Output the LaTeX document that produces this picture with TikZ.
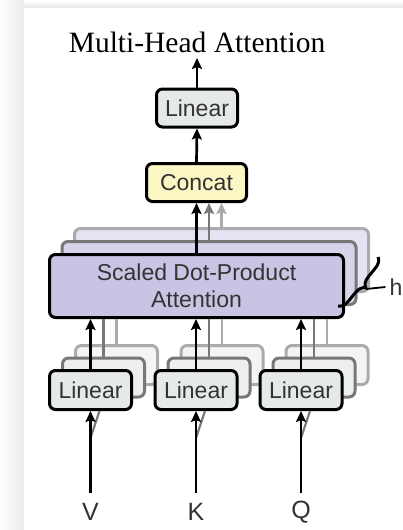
\documentclass[tikz,border=0pt]{standalone}
\usepackage{fontspec}
\setmainfont{Liberation Sans}
\newfontfamily\titlefont{Liberation Serif}
\usetikzlibrary{arrows.meta,decorations.pathreplacing,calc}
\definecolor{bgstrip}{HTML}{EAEAEA}
\definecolor{linfill}{HTML}{E5EAE8}
\definecolor{linfillb}{HTML}{ECEFEE}
\definecolor{linfillc}{HTML}{F3F4F4}
\definecolor{catfill}{HTML}{FBF7C4}
\definecolor{attfill}{HTML}{CBC3E3}
\definecolor{attfillb}{HTML}{D8D2EA}
\definecolor{attfillc}{HTML}{E6E2F1}
\definecolor{midgray}{HTML}{777777}
\definecolor{lightgray}{HTML}{ABABAB}
\begin{document}
\begin{tikzpicture}[x=1pt,y=-1pt,
  box/.style={draw=black, line width=3pt, rounded corners=6pt, inner sep=0pt,
    font=\fontsize{23}{27}\selectfont, text=black!80, align=center},
  boxb/.style={box, draw=midgray},
  boxc/.style={box, draw=lightgray},
  arr/.style={line width=2.7pt, -{Stealth[length=11pt,width=10pt,inset=2pt]}},
  garr/.style={arr, draw=midgray},
  larr/.style={arr, draw=lightgray},
  gline/.style={line width=2.6pt, draw=midgray},
  lline/.style={line width=2.6pt, draw=lightgray},
  lab/.style={font=\fontsize{25}{29}\selectfont, text=black!80, inner sep=0pt}]
\useasboundingbox (0,0) rectangle (403,530);
\fill[white] (0,0) rectangle (403,530);
\shade[left color=white, right color=bgstrip] (0,0) rectangle (24,530);
\shade[top color=white, bottom color=bgstrip] (24,0) rectangle (403,7);

% title
\node[font=\titlefont\fontsize{29.5}{32}\selectfont, inner sep=0pt] (title) at (197,42) {Multi-Head Attention};

% SDPA copies
\node[boxc, fill=attfillc, minimum width=294pt, minimum height=63pt] (attc) at (221.5,260) {};
\node[boxb, fill=attfillb, minimum width=294pt, minimum height=63pt] (attb) at (209,273) {};

% Concat and top Linear
\node[box, fill=catfill, minimum width=100pt, minimum height=38pt] (concat) at (196.5,182.5) {Concat};
\node[box, fill=linfill, minimum width=81pt, minimum height=38pt] (lint) at (197,108) {Linear};
\coordinate (out) at (197,58);
\draw[arr] (lint.north) -- (out);
\draw[arr] (concat.north) -- (lint.south);

% gray arrows from copies to concat
\draw[larr] (attc.north) -- (attc.north |- concat.south);
\draw[garr] (attb.north) -- (attb.north |- concat.south);

% bottom Linear copies
\foreach \n/\x in {v/90.5,k/196,q/301}{
  \node[boxc, fill=linfillc, minimum width=82pt, minimum height=39pt] (l\n c) at (\x+26,365) {};
  \node[boxb, fill=linfillb, minimum width=82pt, minimum height=39pt] (l\n b) at (\x+13,377.5) {};
}
% front SDPA
\node[box, fill=attfill, minimum width=294pt, minimum height=63pt] (att) at (196.5,286) {Scaled Dot-Product\\Attention};
\draw[arr] (att.north) -- (concat.south);

% gray lines from linear copies to SDPA
\foreach \n in {v,k,q}{
  \draw[lline] (l\n c.north) -- (l\n c.north |- att.south);
  \draw[gline] (l\n b.north) -- (l\n b.north |- att.south);
}

% front linears, inputs
\foreach \n/\x/\t in {v/90.5/V,k/196/K,q/301/Q}{
  \node[box, fill=linfill, minimum width=82pt, minimum height=39pt] (l\n) at (\x,390) {Linear};
  \coordinate (in\n) at (\x,493);
  \coordinate (sh\n) at (\x,438);
  \coordinate (shb\n) at (\x+9,411);
  \node[lab] (t\n) at (\x,512) {\t};
  \draw[line width=2.2pt, draw=midgray] (sh\n) -- (shb\n);
  \draw[arr] (in\n) -- (l\n.south);
  \draw[arr] (l\n.north) -- (l\n.north |- att.south);
}

% brace with h
\coordinate (bra) at (378,257);
\coordinate (brb) at (338,306);
\draw[line width=3pt, decorate, decoration={brace, amplitude=10pt}] (bra) -- (brb);
\coordinate (brtip) at (366,289);
\node[lab, font=\fontsize{23}{26}\selectfont] (h) at (396,287) {h};
\draw[line width=1.8pt] (brtip) -- ($(h.west)+(-4,0)$);
\end{tikzpicture}
\end{document}
